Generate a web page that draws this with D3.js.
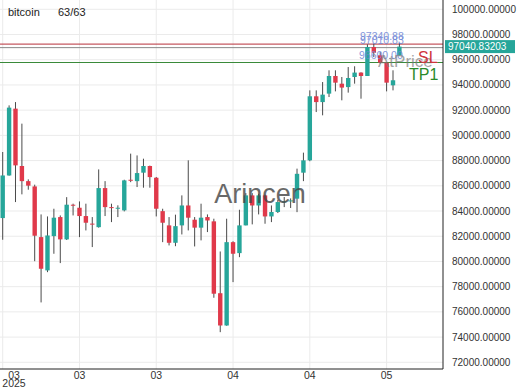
<!DOCTYPE html>
<html>
<head>
<meta charset="utf-8">
<script src="https://cdn.jsdelivr.net/npm/d3@7"></script>
<style>
  body { margin: 0; background: #fff; }
  svg { font-family: "Liberation Sans", Arial, sans-serif; }
</style>
</head>
<body>
<script>
// data (63 daily candles)
var openP  = [83440, 86820, 92120, 87570, 86370, 85950, 81930, 79290, 82010, 83520,
              81750, 84500, 84260, 83600, 83000, 82720, 85820, 84310, 84230, 84050,
              86480, 86370, 87040, 87570, 86640, 83990, 82860, 81480, 82860, 84440,
              83310, 82680, 83520, 83180, 77480, 74920, 81530, 80660, 82860, 85240,
              84440, 85240, 83570, 83920, 84720, 84760, 84980, 87040, 88020, 93100,
              92640, 93310, 94710, 94100, 93830, 94630, 94980, 94710, 97010, 96350,
              95770, 93970, 96350];
var highP  = [88680, 92380, 92640, 90930, 86510, 86090, 83730, 83570, 84180, 83650,
              85100, 84580, 84760, 84580, 83520, 87300, 86370, 84580, 84450, 86480,
              88550, 88410, 88150, 87600, 86700, 84180, 83520, 83710, 85240, 88020,
              83520, 84580, 83730, 83390, 80790, 83390, 81600, 84100, 85420, 85420,
              85370, 85300, 84440, 84890, 85110, 85000, 87360, 88630, 93570, 93570,
              94230, 95160, 95160, 94630, 95420, 95480, 95000, 97220, 97280, 96610,
              95800, 95160, 97330];
var lowP   = [81720, 86800, 84710, 85320, 85690, 80020, 76750, 79150, 80610, 79870,
              81700, 83650, 81930, 82460, 81140, 82680, 83600, 83120, 83520, 83970,
              86290, 85900, 85850, 85850, 83570, 81530, 81270, 81210, 82140, 82460,
              81190, 81670, 82330, 77120, 74390, 74900, 78360, 80340, 82860, 82940,
              83730, 82990, 83120, 83840, 84310, 84240, 83910, 86370, 87950, 91850,
              91590, 93040, 93490, 92780, 93390, 94100, 92910, 94710, 96210, 95690,
              93490, 93570, 96350];
var closeP = [86820, 92200, 87620, 86370, 86010, 82040, 79420, 82060, 83470, 81750,
              84500, 84440, 83600, 83070, 82960, 85820, 84310, 84270, 84260, 86430,
              86400, 87010, 87570, 86690, 84180, 83070, 81480, 82800, 84440, 83470,
              82680, 83470, 83250, 77440, 74920, 81530, 80610, 82860, 85240, 84440,
              85240, 83570, 83920, 84710, 84760, 84840, 86950, 88020, 93100, 92640,
              93230, 94710, 94180, 93790, 94550, 94980, 94710, 97010, 96560, 95770,
              94180, 94370, 97040.83203];

var xTickIdx = [0, 12, 24, 36, 48, 60];
var xTickLabels = ["03", "03", "03", "04", "04", "05"];
var yTicks = [72000, 74000, 76000, 78000, 80000, 82000, 84000, 86000,
              88000, 90000, 92000, 94000, 96000, 98000, 100000];

// horizontal levels: SL, last, TP1
var levelValues = [97240, 96960, 95780];
var lastPrice = 97040.83203;

var svgWidth = 520;
var svgHeight = 390;
var plotRight = 443;
var plotBottom = 369;

var svg = d3.select("body")
  .append("svg")
  .attr("width", svgWidth)
  .attr("height", svgHeight);

var data = openP.map(function(o, i) {
  return { i: i, o: o, h: highP[i], l: lowP[i], c: closeP[i] };
});

var x = d3.scaleLinear().domain([0, 62]).range([2.7, 399.4]);
var y = d3.scaleLinear().domain([72000, 100000]).range([362.3, 9.3]);

// gridlines
svg.append("g")
  .selectAll("line")
  .data(yTicks)
  .enter()
  .append("line")
  .attr("x1", 0)
  .attr("x2", plotRight)
  .attr("y1", d => y(d))
  .attr("y2", d => y(d))
  .attr("stroke", "#ebebeb");

svg.append("g")
  .selectAll("line")
  .data(xTickIdx)
  .enter()
  .append("line")
  .attr("x1", d => x(d))
  .attr("x2", d => x(d))
  .attr("y1", 0)
  .attr("y2", plotBottom)
  .attr("stroke", "#ebebeb");

// level lines
var levelColors = ["#b8303a", "#8a8a8a", "#3a8a3a"];
svg.append("g")
  .selectAll("line")
  .data(levelValues)
  .enter()
  .append("line")
  .attr("x1", 0)
  .attr("x2", plotRight)
  .attr("y1", d => y(d))
  .attr("y2", d => y(d))
  .attr("stroke", (d, i) => levelColors[i])
  .attr("stroke-width", 1);

// candles
var up = "#26a69a";
var down = "#e0394a";
var bodyW = 4.4;

var candles = svg.append("g")
  .selectAll("g")
  .data(data)
  .enter()
  .append("g");

candles.append("line")
  .attr("x1", d => x(d.i))
  .attr("x2", d => x(d.i))
  .attr("y1", d => y(d.h))
  .attr("y2", d => y(d.l))
  .attr("stroke", "#4a4a4a")
  .attr("stroke-width", 1);

candles.append("rect")
  .attr("x", d => x(d.i) - bodyW / 2)
  .attr("width", bodyW)
  .attr("y", d => y(Math.max(d.o, d.c)))
  .attr("height", d => Math.max(1, Math.abs(y(d.o) - y(d.c))))
  .attr("fill", d => d.c >= d.o ? up : down);

// overlapping level labels
var lblColor = "#6f86d6";
svg.append("text").attr("x", 360).attr("y", 40).attr("font-size", 10.5)
  .attr("fill", lblColor).attr("opacity", 0.85).text("97340.88");
svg.append("text").attr("x", 360).attr("y", 43.5).attr("font-size", 10.5)
  .attr("fill", lblColor).attr("opacity", 0.85).text("97010.83");
svg.append("text").attr("x", 359).attr("y", 58.5).attr("font-size", 10.5)
  .attr("fill", lblColor).attr("opacity", 0.85).text("96600.00");

svg.append("text").attr("x", 378).attr("y", 67).attr("font-size", 17)
  .attr("fill", "#777").attr("opacity", 0.65).text("AtPrice");
svg.append("text").attr("x", 418).attr("y", 63).attr("font-size", 16)
  .attr("fill", "#d0343c").text("SL");
svg.append("text").attr("x", 409).attr("y", 80).attr("font-size", 16)
  .attr("fill", "#2a8a2a").text("TP1");

// watermark
svg.append("text")
  .attr("x", 260)
  .attr("y", 203)
  .attr("text-anchor", "middle")
  .attr("font-size", 27)
  .attr("fill", "#444")
  .attr("opacity", 0.8)
  .text("Arincen");

// axes frame
svg.append("line")
  .attr("x1", plotRight).attr("x2", plotRight)
  .attr("y1", 0).attr("y2", plotBottom)
  .attr("stroke", "#222");
svg.append("line")
  .attr("x1", 0).attr("x2", plotRight)
  .attr("y1", plotBottom).attr("y2", plotBottom)
  .attr("stroke", "#222");

// right axis labels
svg.append("g")
  .selectAll("text")
  .data(yTicks)
  .enter()
  .append("text")
  .attr("x", 452)
  .attr("y", d => y(d))
  .attr("dy", "0.35em")
  .attr("font-size", 10)
  .attr("fill", "#333")
  .text(d => d3.format(".5f")(d));

// last price box
svg.append("rect")
  .attr("x", 445)
  .attr("y", y(lastPrice) - 6.5)
  .attr("width", 70)
  .attr("height", 13)
  .attr("fill", "#26a69a");
svg.append("text")
  .attr("x", 448)
  .attr("y", y(lastPrice))
  .attr("dy", "0.35em")
  .attr("font-size", 10)
  .attr("fill", "#fff")
  .text(d3.format(".5f")(lastPrice));

// bottom axis labels
svg.append("g")
  .selectAll("text")
  .data(xTickIdx)
  .enter()
  .append("text")
  .attr("x", (d, i) => i === 0 ? 14 : x(d))
  .attr("y", 379)
  .attr("text-anchor", "middle")
  .attr("font-size", 10.5)
  .attr("fill", "#333")
  .text((d, i) => xTickLabels[i]);

svg.append("text")
  .attr("x", 14)
  .attr("y", 387)
  .attr("text-anchor", "middle")
  .attr("font-size", 10.5)
  .attr("fill", "#333")
  .text("2025");

// header
svg.append("text").attr("x", 8).attr("y", 16).attr("font-size", 11)
  .attr("fill", "#222").text("bitcoin");
svg.append("text").attr("x", 58).attr("y", 16).attr("font-size", 11)
  .attr("fill", "#222").text("63/63");
</script>
</body>
</html>
